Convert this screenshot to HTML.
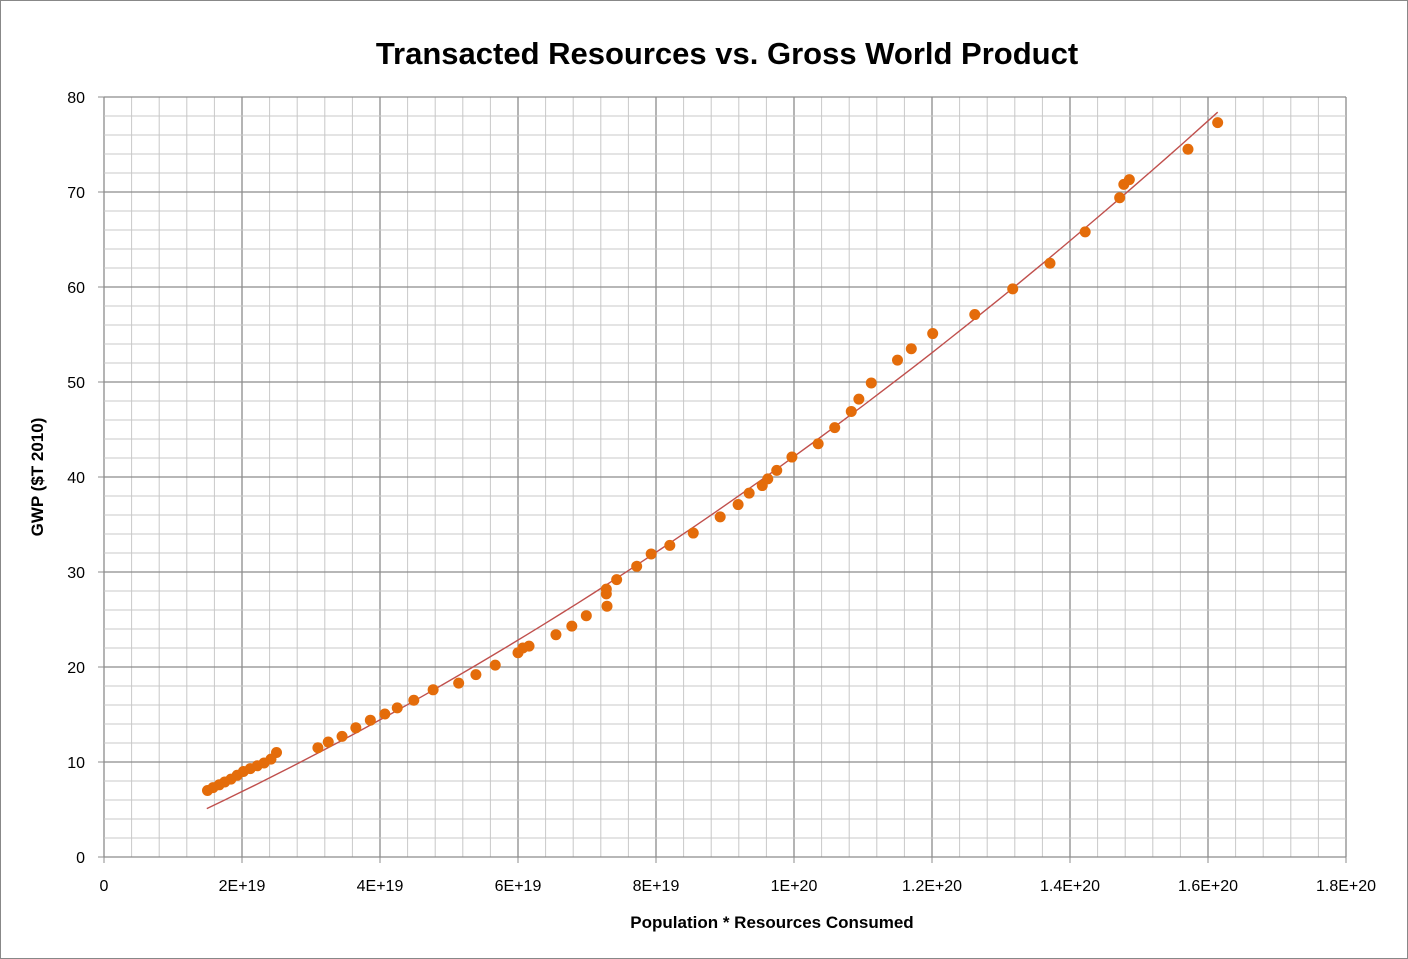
<!DOCTYPE html>
<html><head><meta charset="utf-8"><style>
html,body{margin:0;padding:0;background:#fff}
svg{display:block;font-family:"Liberation Sans",Arial,sans-serif}
</style></head><body>
<svg id="chart" width="1408" height="959" viewBox="0 0 1408 959" xmlns="http://www.w3.org/2000/svg">
<rect x="0.5" y="0.5" width="1407" height="958" fill="#fff" stroke="#888"/>
<text x="727" y="64" text-anchor="middle" font-size="31" font-weight="bold" fill="#000">Transacted Resources vs. Gross World Product</text>
<text x="772" y="928" text-anchor="middle" font-size="17" font-weight="bold">Population * Resources Consumed</text>
<text transform="translate(43,477) rotate(-90)" text-anchor="middle" font-size="17" font-weight="bold">GWP ($T 2010)</text>
<g id="grid"></g>
<g id="axes"></g>
<g id="trend"></g>
<g id="points"></g>
</svg>
<script>
const xTickLabels=["0","2E+19","4E+19","6E+19","8E+19","1E+20","1.2E+20","1.4E+20","1.6E+20","1.8E+20"];
const yTickLabels=["0","10","20","30","40","50","60","70","80"];
// x values in units of 1E+19
const xVals=[1.50,1.58,1.67,1.75,1.84,1.93,2.02,2.12,2.22,2.32,2.42,2.50,3.10,3.25,3.45,3.65,3.86,4.07,4.25,4.49,4.77,5.14,5.39,5.67,6.00,6.07,6.16,6.55,6.78,6.99,7.28,7.28,7.29,7.43,7.72,7.93,8.20,8.54,8.93,9.19,9.35,9.54,9.62,9.75,9.97,10.35,10.59,10.83,10.94,11.12,11.50,11.70,12.01,12.62,13.17,13.71,14.22,14.72,14.78,14.86,15.71,16.14];
const yVals=[7.0,7.3,7.6,7.9,8.2,8.6,9.0,9.3,9.6,9.9,10.3,11.0,11.5,12.1,12.7,13.6,14.4,15.05,15.7,16.5,17.6,18.3,19.2,20.2,21.5,22.0,22.2,23.4,24.3,25.4,28.2,27.7,26.4,29.2,30.6,31.9,32.8,34.1,35.8,37.1,38.3,39.1,39.8,40.7,42.1,43.5,45.2,46.9,48.2,49.9,52.3,53.5,55.1,57.1,59.8,62.5,65.8,69.4,70.8,71.3,74.5,77.3];
const trendCoef=[0.186,3.14,0.1057];
const trendRange=[1.49,16.14];
const X0=104,X1=1346,Y0=857,Y1=97,XMAX=18,YMAX=80;
const sx=v=>X0+(v/XMAX)*(X1-X0);
const sy=v=>Y0-(v/YMAX)*(Y0-Y1);
const NS="http://www.w3.org/2000/svg";
function mk(tag,attrs,parent){const e=document.createElementNS(NS,tag);for(const k in attrs)e.setAttribute(k,attrs[k]);parent.appendChild(e);return e;}
const grid=document.getElementById('grid'),axes=document.getElementById('axes');
for(let i=0;i<=45;i++){const v=i*0.4,x=sx(v),major=i%5===0;
 const l=mk('line',{x1:x,x2:x,y1:Y1,y2:Y0,stroke:major?'#8c8c8c':'#c8c8c8','stroke-width':major?1.3:1},grid);
 
 }
for(let i=0;i<=40;i++){const v=i*2,y=sy(v),major=i%5===0;
 const l=mk('line',{x1:X0,x2:X1,y1:y,y2:y,stroke:major?'#8c8c8c':'#c8c8c8','stroke-width':major?1.3:1},grid);
 
 }
xTickLabels.forEach((t,i)=>{const x=sx(i*2);
 const tk=mk('line',{x1:x,x2:x,y1:Y0,y2:Y0+6,stroke:'#8c8c8c'},axes);
 
 
 const tx=mk('text',{x:x,y:891,'text-anchor':'middle','font-size':16},axes);tx.textContent=t;
 
 });
yTickLabels.forEach((t,i)=>{const y=sy(i*10);
 const tk=mk('line',{x1:X0-6,x2:X0,y1:y,y2:y,stroke:'#8c8c8c'},axes);
 
 
 const tx=mk('text',{x:85,y:y+6,'text-anchor':'end','font-size':16},axes);tx.textContent=t;
 
 });
let d='';for(let i=0;i<=60;i++){const v=trendRange[0]+(trendRange[1]-trendRange[0])*i/60;
 const g=trendCoef[0]+trendCoef[1]*v+trendCoef[2]*v*v;d+=(i?'L':'M')+sx(v).toFixed(1)+','+sy(g).toFixed(1);}
const tl=mk('path',{d:d,fill:'none',stroke:'#c0504d','stroke-width':1.4},document.getElementById('trend'));


const pts=document.getElementById('points');
xVals.forEach((v,i)=>{const c=mk('circle',{cx:sx(v),cy:sy(yVals[i]),r:5.5,fill:'#e46c0a'},pts);
 
 });
</script>
</body></html>
